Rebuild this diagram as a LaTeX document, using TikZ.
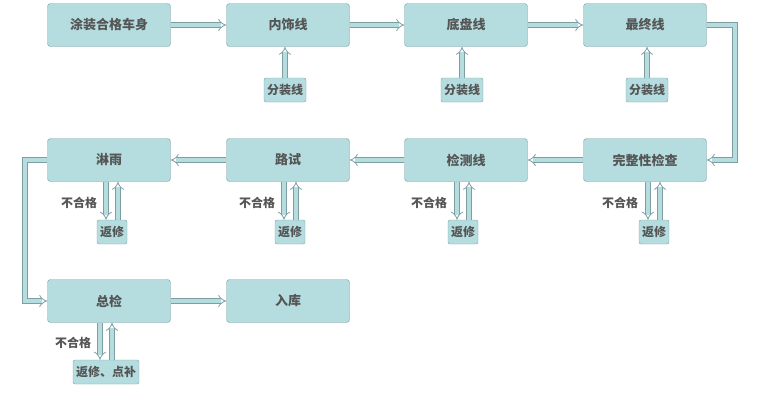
\documentclass[tikz,border=0pt]{standalone}
\usepackage{fontspec}
\setmainfont{Noto Sans CJK SC}
\usetikzlibrary{arrows.meta}
\definecolor{boxfill}{HTML}{B5DDE0}
\definecolor{boxline}{HTML}{7E9FA1}
\definecolor{txt}{HTML}{555555}
\begin{document}
\begin{tikzpicture}[x=1pt,y=-1pt,
  bigbox/.style={draw=boxline,fill=boxfill,rounded corners=3pt,minimum width=123pt,minimum height=43pt,inner sep=0pt,text=txt,font=\fontsize{13}{15}\selectfont\bfseries},
  smallbox/.style={draw=boxline,fill=boxfill,rounded corners=2pt,minimum height=24pt,inner sep=3pt,text=txt,font=\fontsize{12}{14}\selectfont\bfseries},
  flow/.style={draw=boxline,double=boxfill,double distance=3.5pt,line width=0.8pt,-{Implies[]}},
  lbl/.style={text=txt,font=\fontsize{12}{14}\selectfont\bfseries}]
\useasboundingbox (0,0) rectangle (760,400);
% row one
\node[bigbox] (body) at (109,25) {涂装合格车身};
\node[bigbox] (trim) at (288,25) {内饰线};
\node[bigbox] (chassis) at (466,25) {底盘线};
\node[bigbox] (final) at (645,25) {最终线};
\node[smallbox] (sub1) at (285,90) {分装线};
\node[smallbox] (sub2) at (462,90) {分装线};
\node[smallbox] (sub3) at (647,90) {分装线};
% row two
\node[bigbox] (check) at (645,160) {完整性检查};
\node[bigbox] (test) at (466,160) {检测线};
\node[bigbox] (road) at (288,160) {路试};
\node[bigbox] (rain) at (109,160) {淋雨};
\node[smallbox] (fix1) at (654,232) {返修};
\node[smallbox] (fix2) at (463,232) {返修};
\node[smallbox] (fix3) at (290,232) {返修};
\node[smallbox] (fix4) at (112,232) {返修};
% row three
\node[bigbox] (total) at (109,301) {总检};
\node[bigbox] (store) at (288,301) {入库};
\node[smallbox] (fix5) at (106,372) {返修、点补};
% flow
\draw[flow] (body) -- (trim);
\draw[flow] (trim) -- (chassis);
\draw[flow] (chassis) -- (final);
\draw[flow] (final.east) -- (735,25) -- (735,160) -- (check.east);
\draw[flow] (check) -- (test);
\draw[flow] (test) -- (road);
\draw[flow] (road) -- (rain);
\draw[flow] (rain.west) -- (25,160) -- (25,301) -- (total.west);
\draw[flow] (total) -- (store);
\foreach \s/\b in {sub1/trim,sub2/chassis,sub3/final}
  \draw[flow] (\s.north) -- (\b.south-|\s.north);
\foreach \f/\b in {fix1/check,fix2/test,fix3/road,fix4/rain,fix5/total}{
  \draw[flow] ([xshift=-6pt]\b.south-|\f.north) -- ([xshift=-6pt]\f.north);
  \draw[flow] ([xshift=6pt]\f.north) -- ([xshift=6pt]\b.south-|\f.north);
}
\node[lbl] at (620,203) {不合格};
\node[lbl] at (429,203) {不合格};
\node[lbl] at (257,203) {不合格};
\node[lbl] at (79,203) {不合格};
\node[lbl] at (73,343) {不合格};
\end{tikzpicture}
\end{document}
